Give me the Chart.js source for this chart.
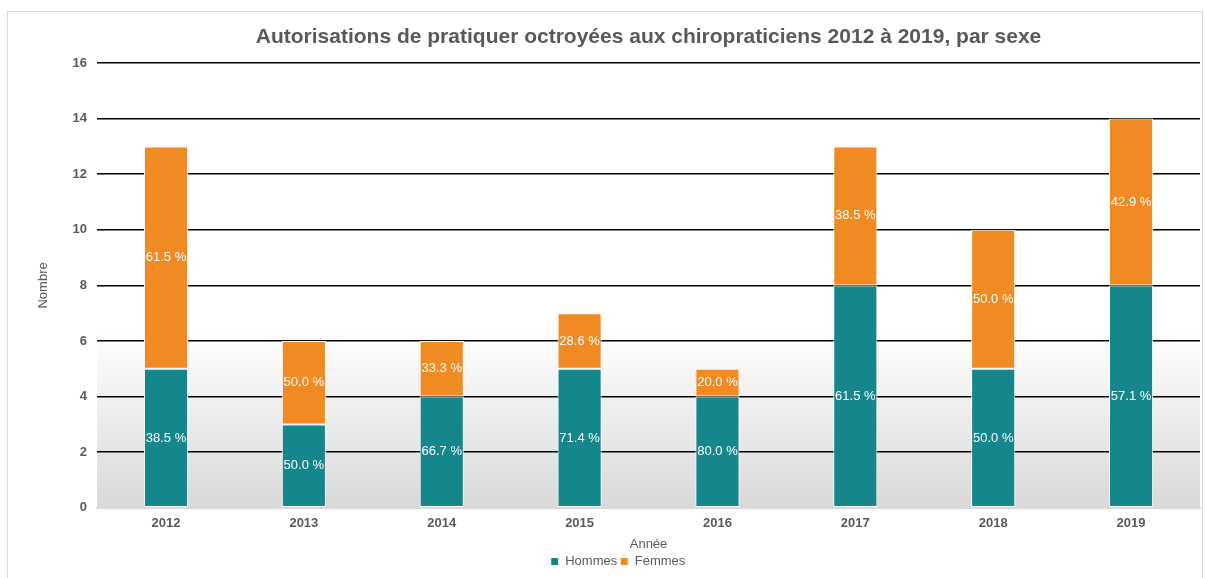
<!DOCTYPE html>
<html>
<head>
<meta charset="utf-8">
<script src="https://cdn.jsdelivr.net/npm/chart.js@4.4.0/dist/chart.umd.min.js"></script>
<style>
  html, body { margin: 0; padding: 0; background: #fff; }
  #frame {
    position: absolute; left: 7px; top: 11px; width: 1196px; height: 580px;
    border: 1px solid #d9d9d9; box-sizing: border-box;
  }
  #wrap { position: absolute; left: 0; top: 0; width: 1205px; height: 578px; }
</style>
</head>
<body>
<div id="frame"></div>
<div id="wrap"><canvas id="chart"></canvas></div>
<script>
const years = ['2012', '2013', '2014', '2015', '2016', '2017', '2018', '2019'];
const hommes = [5, 3, 4, 5, 4, 8, 5, 8];
const femmes = [8, 3, 2, 2, 1, 5, 5, 6];
const yTicks = [0, 2, 4, 6, 8, 10, 12, 14, 16];
const chartTitle = 'Autorisations de pratiquer octroyées aux chiropraticiens 2012 à 2019, par sexe';

const TEXT = '#595959';
const FONT = 'Arial, "Liberation Sans", sans-serif';

// Soft gray gradient behind the lower part of the plot area
const plotBackground = {
  id: 'plotBackground',
  beforeDraw(chart) {
    const { ctx, chartArea: a } = chart;
    const g = ctx.createLinearGradient(0, a.top, 0, a.bottom);
    g.addColorStop(0, '#ffffff');
    g.addColorStop(0.6, '#ffffff');
    g.addColorStop(1, '#d9d9d9');
    ctx.save();
    ctx.fillStyle = g;
    ctx.fillRect(a.left, a.top, a.right - a.left, a.bottom - a.top);
    ctx.restore();
  }
};

// Title centred over the plot area rather than the whole canvas
const plotTitle = {
  id: 'plotTitle',
  afterDraw(chart) {
    const { ctx, chartArea: a } = chart;
    ctx.save();
    ctx.fillStyle = TEXT;
    ctx.font = 'bold 21px ' + FONT;
    ctx.textAlign = 'center';
    ctx.textBaseline = 'middle';
    ctx.fillText(chartTitle, (a.left + a.right) / 2, 37);
    ctx.restore();
  }
};

// Percentage labels in the middle of each segment
const segmentLabels = {
  id: 'segmentLabels',
  afterDatasetsDraw(chart) {
    const { ctx } = chart;
    ctx.save();
    ctx.fillStyle = '#ffffff';
    ctx.font = '13px ' + FONT;
    ctx.textAlign = 'center';
    ctx.textBaseline = 'middle';
    chart.data.datasets.forEach((ds, di) => {
      chart.getDatasetMeta(di).data.forEach((bar, i) => {
        const total = hommes[i] + femmes[i];
        const pct = (ds.data[i] / total * 100).toFixed(1) + ' %';
        ctx.fillText(pct, bar.x, (bar.y + bar.base) / 2);
      });
    });
    ctx.restore();
  }
};

new Chart(document.getElementById('chart'), {
  type: 'bar',
  data: {
    labels: years,
    datasets: [
      {
        label: 'Hommes',
        data: hommes,
        backgroundColor: '#15868b',
        borderColor: '#ffffff',
        borderWidth: 1,
        borderSkipped: false,
        categoryPercentage: 1,
        barPercentage: 0.32
      },
      {
        label: 'Femmes',
        data: femmes,
        backgroundColor: '#f08a22',
        borderColor: '#ffffff',
        borderWidth: 1,
        borderSkipped: false,
        categoryPercentage: 1,
        barPercentage: 0.32
      }
    ]
  },
  options: {
    responsive: true,
    maintainAspectRatio: false,
    animation: false,
    layout: { padding: { left: 36, right: 5, top: 63, bottom: 0 } },
    plugins: {
      title: { display: false },
      legend: {
        position: 'bottom',
        labels: {
          color: TEXT,
          font: { family: FONT, size: 13 },
          boxWidth: 8,
          boxHeight: 8,
          padding: 3
        }
      },
      tooltip: { enabled: false }
    },
    scales: {
      x: {
        stacked: true,
        grid: { display: false },
        border: { color: '#d9d9d9', width: 2 },
        ticks: {
          color: TEXT,
          font: { family: FONT, size: 13, weight: 'bold' },
          padding: 0
        },
        title: {
          display: true,
          text: 'Année',
          color: TEXT,
          font: { family: FONT, size: 13 },
          padding: { top: 5, bottom: 0 }
        }
      },
      y: {
        stacked: true,
        min: 0,
        max: 16,
        afterBuildTicks: (axis) => { axis.ticks = yTicks.map(v => ({ value: v })); },
        grid: {
          color: (c) => c.tick && c.tick.value === 0 ? '#d9d9d9' : '#000000',
          lineWidth: 1.5,
          drawTicks: false
        },
        border: { display: false },
        ticks: {
          color: TEXT,
          font: { family: FONT, size: 13, weight: 'bold' },
          padding: 10
        },
        title: {
          display: true,
          text: 'Nombre',
          color: TEXT,
          font: { family: FONT, size: 13 },
          padding: { top: 0, bottom: 11 }
        }
      }
    }
  },
  plugins: [plotBackground, segmentLabels, plotTitle]
});
</script>
</body>
</html>
